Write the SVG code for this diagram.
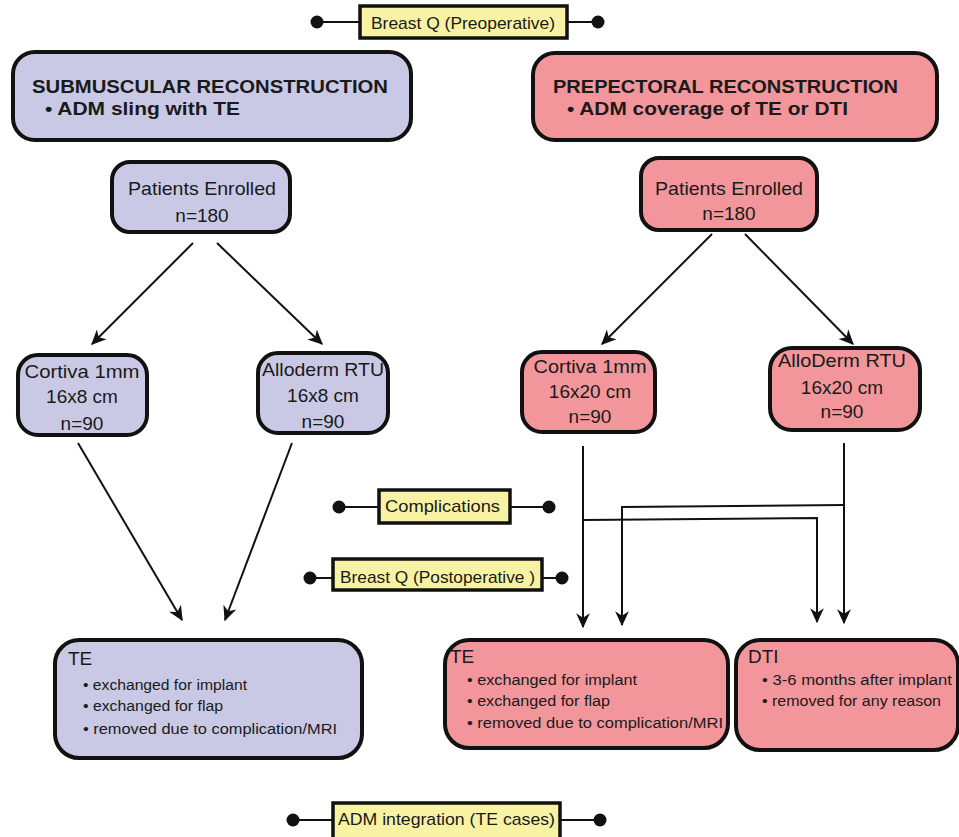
<svg xmlns="http://www.w3.org/2000/svg" width="959" height="837" viewBox="0 0 959 837">
<defs>
<marker id="ah" viewBox="0 0 12 12" refX="11" refY="6" markerWidth="15" markerHeight="15" markerUnits="userSpaceOnUse" orient="auto">
<path d="M0,0.5 L12,6 L0,11.5 L3.5,6 z" fill="#111"/>
</marker>
<style>
text{font-family:"Liberation Sans",Arial,sans-serif;fill:#1a1a1a}
.lav{fill:#c9c9e6;stroke:#111;stroke-width:4}
.pink{fill:#f2969b;stroke:#111;stroke-width:4}
.yel{fill:#f8f2a4;stroke:#111;stroke-width:3.5}
.hd{font-weight:bold;font-size:19px}
.md{font-size:19px}
.sm{font-size:15.5px}
.lb{font-size:17px}
.tl{stroke:#111;stroke-width:2}
.dot{fill:#111}
.cn{fill:none;stroke:#111;stroke-width:2}
</style>
</defs>
<rect width="959" height="837" fill="#fff"/>

<g id="connectors">
<line class="cn" x1="193" y1="243" x2="92" y2="344" marker-end="url(#ah)"/>
<line class="cn" x1="217" y1="243" x2="322" y2="344" marker-end="url(#ah)"/>
<line class="cn" x1="712" y1="234" x2="602" y2="344" marker-end="url(#ah)"/>
<line class="cn" x1="745" y1="234" x2="853" y2="344" marker-end="url(#ah)"/>
<line class="cn" x1="78" y1="443" x2="182" y2="620" marker-end="url(#ah)"/>
<line class="cn" x1="292" y1="443" x2="225" y2="620" marker-end="url(#ah)"/>
<line class="cn" x1="583" y1="446" x2="583" y2="627" marker-end="url(#ah)"/>
<line class="cn" x1="844" y1="443" x2="844" y2="623" marker-end="url(#ah)"/>
<polyline class="cn" points="844,505 622,507 622,625" marker-end="url(#ah)"/>
<polyline class="cn" points="583,520 817,518 817,622" marker-end="url(#ah)"/>
</g>

<g id="breastq-pre">
<line class="tl" x1="317" y1="22" x2="598" y2="22"/>
<circle class="dot" cx="317" cy="22" r="6.5"/>
<circle class="dot" cx="598" cy="22" r="6.5"/>
<rect class="yel" x="360" y="6" width="207" height="32"/>
<text class="lb" x="463" y="29" text-anchor="middle" textLength="184" lengthAdjust="spacingAndGlyphs">Breast Q (Preoperative)</text>
</g>

<g id="submuscular">
<rect class="lav" x="13" y="52" width="398" height="88" rx="22"/>
<text class="hd" x="32" y="93" textLength="356" lengthAdjust="spacingAndGlyphs">SUBMUSCULAR RECONSTRUCTION</text>
<text class="hd" x="45" y="115" textLength="195" lengthAdjust="spacingAndGlyphs">• ADM sling with TE</text>
</g>

<g id="prepectoral">
<rect class="pink" x="533" y="53" width="404" height="87" rx="22"/>
<text class="hd" x="553" y="93" textLength="345" lengthAdjust="spacingAndGlyphs">PREPECTORAL RECONSTRUCTION</text>
<text class="hd" x="567" y="115" textLength="281" lengthAdjust="spacingAndGlyphs">• ADM coverage of TE or DTI</text>
</g>

<g id="enrolled-left">
<rect class="lav" x="112" y="162" width="178" height="70" rx="18"/>
<text class="md" x="202" y="195" text-anchor="middle" textLength="148" lengthAdjust="spacingAndGlyphs">Patients Enrolled</text>
<text class="md" x="202" y="222" text-anchor="middle">n=180</text>
</g>

<g id="enrolled-right">
<rect class="pink" x="641" y="158" width="176" height="72" rx="18"/>
<text class="md" x="729" y="195" text-anchor="middle" textLength="148" lengthAdjust="spacingAndGlyphs">Patients Enrolled</text>
<text class="md" x="729" y="220" text-anchor="middle">n=180</text>
</g>

<g id="cortiva-left">
<rect class="lav" x="18" y="355" width="129" height="80" rx="20"/>
<text class="md" x="82" y="378" text-anchor="middle" textLength="115" lengthAdjust="spacingAndGlyphs">Cortiva 1mm</text>
<text class="md" x="82" y="403" text-anchor="middle">16x8 cm</text>
<text class="md" x="82" y="430" text-anchor="middle">n=90</text>
</g>

<g id="alloderm-left">
<rect class="lav" x="258" y="353" width="130" height="80" rx="20"/>
<text class="md" x="323" y="376" text-anchor="middle" textLength="122" lengthAdjust="spacingAndGlyphs">Alloderm RTU</text>
<text class="md" x="323" y="402" text-anchor="middle">16x8 cm</text>
<text class="md" x="323" y="428" text-anchor="middle">n=90</text>
</g>

<g id="cortiva-right">
<rect class="pink" x="522" y="352" width="133" height="80" rx="20"/>
<text class="md" x="590" y="373" text-anchor="middle" textLength="113" lengthAdjust="spacingAndGlyphs">Cortiva 1mm</text>
<text class="md" x="590" y="398" text-anchor="middle">16x20 cm</text>
<text class="md" x="590" y="423" text-anchor="middle">n=90</text>
</g>

<g id="alloderm-right">
<rect class="pink" x="770" y="348" width="150" height="82" rx="22"/>
<text class="md" x="842" y="367" text-anchor="middle" textLength="128" lengthAdjust="spacingAndGlyphs">AlloDerm RTU</text>
<text class="md" x="842" y="394" text-anchor="middle">16x20 cm</text>
<text class="md" x="842" y="418" text-anchor="middle">n=90</text>
</g>

<g id="complications">
<line class="tl" x1="339" y1="507" x2="549" y2="507"/>
<circle class="dot" cx="339" cy="507" r="6.5"/>
<circle class="dot" cx="549" cy="507" r="6.5"/>
<rect class="yel" x="379" y="490" width="131" height="33"/>
<text class="lb" x="442.5" y="512" text-anchor="middle" textLength="115" lengthAdjust="spacingAndGlyphs">Complications</text>
</g>

<g id="breastq-post">
<line class="tl" x1="310" y1="578" x2="562" y2="578"/>
<circle class="dot" cx="310" cy="578" r="6.5"/>
<circle class="dot" cx="562" cy="578" r="6.5"/>
<rect class="yel" x="333" y="559" width="209" height="31"/>
<text class="lb" x="437.5" y="583" text-anchor="middle" textLength="195" lengthAdjust="spacingAndGlyphs">Breast Q (Postoperative )</text>
</g>

<g id="te-left">
<rect class="lav" x="55" y="640" width="307" height="118" rx="24"/>
<text class="md" x="68" y="665">TE</text>
<text class="sm" x="83" y="690" textLength="164" lengthAdjust="spacingAndGlyphs">• exchanged for implant</text>
<text class="sm" x="83" y="711" textLength="140" lengthAdjust="spacingAndGlyphs">• exchanged for flap</text>
<text class="sm" x="83" y="734" textLength="254" lengthAdjust="spacingAndGlyphs">• removed due to complication/MRI</text>
</g>

<g id="te-right">
<rect class="pink" x="445" y="640" width="283" height="108" rx="24"/>
<text class="md" x="450" y="663">TE</text>
<text class="sm" x="467" y="685" textLength="170" lengthAdjust="spacingAndGlyphs">• exchanged for implant</text>
<text class="sm" x="467" y="706" textLength="143" lengthAdjust="spacingAndGlyphs">• exchanged for flap</text>
<text class="sm" x="467" y="728" textLength="256" lengthAdjust="spacingAndGlyphs">• removed due to complication/MRI</text>
</g>

<g id="dti">
<rect class="pink" x="736" y="640" width="222" height="110" rx="24"/>
<text class="md" x="748" y="663">DTI</text>
<text class="sm" x="762" y="685" textLength="190" lengthAdjust="spacingAndGlyphs">• 3-6 months after implant</text>
<text class="sm" x="762" y="706" textLength="179" lengthAdjust="spacingAndGlyphs">• removed for any reason</text>
</g>

<g id="adm-integration">
<line class="tl" x1="293" y1="820" x2="600" y2="820"/>
<circle class="dot" cx="293" cy="820" r="6.5"/>
<circle class="dot" cx="600" cy="820" r="6.5"/>
<rect class="yel" x="333" y="803" width="227" height="36"/>
<text class="lb" x="446.5" y="825" text-anchor="middle" textLength="217" lengthAdjust="spacingAndGlyphs">ADM integration (TE cases)</text>
</g>
</svg>
